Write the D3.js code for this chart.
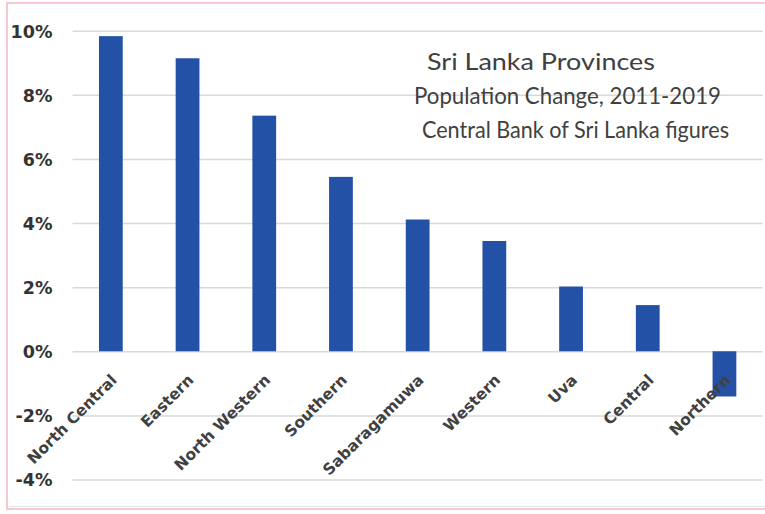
<!DOCTYPE html>
<html>
<head>
<meta charset="utf-8">
<script src="https://cdn.jsdelivr.net/npm/d3@7"></script>
<style>
  html, body { margin: 0; padding: 0; background: #ffffff; }
  svg { display: block; }
</style>
</head>
<body>
<svg id="chart" width="765" height="514"></svg>
<script>
const categories = ["North Central", "Eastern", "North Western", "Southern", "Sabaragamuwa", "Western", "Uva", "Central", "Northern"];
const values = [9.83, 9.14, 7.35, 5.44, 4.11, 3.44, 2.02, 1.44, -1.41];
const yTicks = [-4, -2, 0, 2, 4, 6, 8, 10];
const titleLines = ["Sri Lanka Provinces", "Population Change, 2011-2019", "Central Bank of Sri Lanka figures"];

const svg = d3.select("#chart");
const plot = { left: 72.5, right: 762.8, top: 30.7, bottom: 479.5 };

// outer border
svg.append("rect").attr("x", 7).attr("y", 3).attr("width", 780).attr("height", 506)
  .attr("fill", "none").attr("stroke", "#f3bcc4").attr("stroke-width", 1.6);
svg.append("line").attr("x1", 9).attr("x2", 765).attr("y1", 506.5).attr("y2", 506.5)
  .attr("stroke", "#e4e4e4").attr("stroke-width", 1);

const x = d3.scaleBand().domain(categories).range([plot.left, plot.right]).paddingInner(0.69).paddingOuter(0.345);
const y = d3.scaleLinear().domain([-4, 10]).range([plot.bottom, plot.top]);

// gridlines + y labels
const yAxis = d3.axisLeft(y).tickValues(yTicks).tickSize(-(plot.right - plot.left)).tickFormat(d => d + "%");
const gy = svg.append("g").attr("transform", `translate(${plot.left},0)`).call(yAxis);
gy.select(".domain").remove();
gy.selectAll(".tick line").attr("stroke", "#d9d9d9").attr("stroke-width", 1.5);
gy.selectAll(".tick text")
  .attr("font-family", "'DejaVu Sans', sans-serif").attr("font-weight", "bold")
  .attr("font-size", 17.5).attr("fill", "#333333").attr("x", -20).attr("dy", "0.36em");

// title
const titleX = [427, 414, 422];
const titleW = [228, 307, 307];
const titleY = [70, 104, 138];
const tg = svg.append("g");
titleLines.forEach((t, i) => {
  tg.append("text").attr("x", titleX[i]).attr("y", titleY[i])
    .attr("font-family", "Lato, sans-serif").attr("font-size", 23.5)
    .attr("fill", "#404040").attr("textLength", titleW[i]).attr("lengthAdjust", "spacingAndGlyphs")
    .text(t);
});

// bars
svg.append("g").selectAll("rect").data(categories).join("rect")
  .attr("x", d => x(d))
  .attr("width", x.bandwidth())
  .attr("y", (d, i) => y(Math.max(0, values[i])))
  .attr("height", (d, i) => Math.abs(y(values[i]) - y(0)))
  .attr("fill", "#2351a6");

// category labels
svg.append("g").selectAll("text").data(categories).join("text")
  .attr("transform", d => `translate(${x(d) + x.bandwidth() / 2 + 7},381) rotate(-45)`)
  .attr("text-anchor", "end")
  .attr("font-family", "'DejaVu Sans', sans-serif").attr("font-weight", "bold")
  .attr("font-size", 15.5).attr("fill", "#404040")
  .text(d => d);
</script>
</body>
</html>
